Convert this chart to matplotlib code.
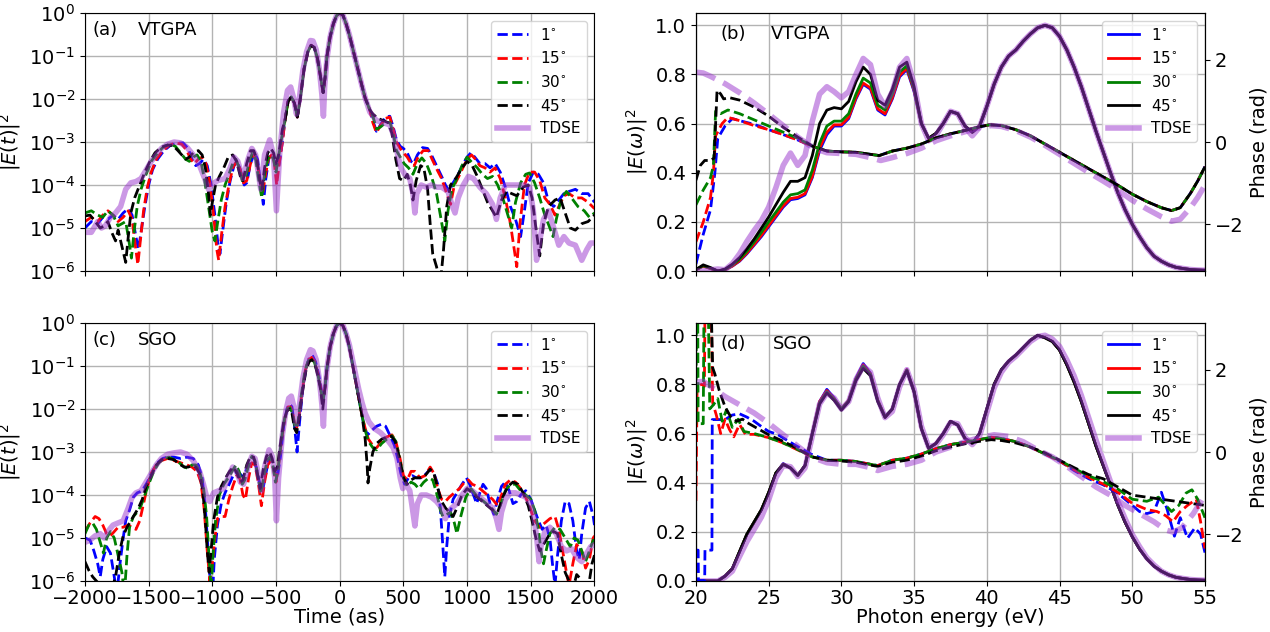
import numpy as np
import matplotlib
matplotlib.use("Agg")
import matplotlib.pyplot as plt
from matplotlib.ticker import NullLocator, MultipleLocator

# ---------------- time domain, (t [as], log10 |E(t)|^2) ----------------
vt_core = [(-430, -2.5), (-405, -2.05), (-380, -1.95), (-355, -2.1), (-333, -2.42), (-310, -2.0),
           (-280, -1.3), (-250, -0.9), (-225, -0.75), (-200, -0.8), (-175, -1.05), (-150, -1.5),
           (-130, -1.85), (-115, -1.5), (-100, -1.0), (-75, -0.55), (-50, -0.25), (-25, -0.06),
           (0, 0.0), (25, -0.05), (50, -0.25), (75, -0.5), (100, -0.8), (125, -1.1), (150, -1.4),
           (175, -1.7), (200, -1.98), (236, -2.25)]

vt_1_left = [(-2000, -5.0), (-1950, -4.85), (-1900, -4.9), (-1860, -4.75), (-1820, -4.8), (-1780, -4.7),
             (-1740, -4.8), (-1700, -4.65), (-1660, -4.55), (-1630, -4.7), (-1600, -5.2), (-1580, -5.5),
             (-1560, -5.1), (-1530, -4.5), (-1500, -4.0), (-1470, -3.65), (-1430, -3.4), (-1380, -3.2),
             (-1330, -3.08), (-1280, -3.03), (-1230, -3.02), (-1190, -3.15), (-1160, -3.4), (-1130, -3.55),
             (-1100, -3.5), (-1070, -3.4), (-1040, -3.55), (-1010, -4.0), (-980, -4.7), (-955, -5.4),
             (-940, -5.6), (-920, -5.1), (-890, -4.4), (-860, -3.9), (-830, -3.55), (-805, -3.45),
             (-780, -3.65), (-750, -4.0), (-730, -3.95), (-700, -3.5), (-670, -3.25), (-645, -3.4),
             (-620, -4.0), (-600, -4.45), (-580, -3.85), (-555, -3.35), (-530, -3.3), (-505, -3.5),
             (-480, -3.6), (-455, -3.1)]
vt_1_right = [(260, -2.5), (288, -2.75), (320, -2.6), (360, -2.42), (393, -2.4), (420, -2.65), (445, -2.95),
              (475, -3.1), (500, -3.15), (530, -3.25), (560, -3.45), (580, -3.5), (610, -3.3), (650, -3.13),
              (690, -3.15), (720, -3.3), (760, -3.55), (800, -3.8), (830, -4.0), (860, -4.15), (890, -3.95),
              (930, -3.75), (970, -3.5), (1000, -3.35), (1030, -3.25), (1060, -3.35), (1100, -3.5),
              (1140, -3.5), (1180, -3.6), (1220, -3.5), (1260, -3.7), (1300, -4.05), (1340, -4.5),
              (1380, -4.8), (1420, -5.2), (1450, -4.6), (1480, -3.95), (1520, -3.7), (1560, -3.75),
              (1600, -3.95), (1640, -4.4), (1680, -4.5), (1720, -4.35), (1760, -4.2), (1800, -4.15),
              (1850, -4.1), (1900, -4.2), (1950, -4.2), (2000, -4.4)]

vt_15_left = [(-2000, -4.85), (-1950, -4.75), (-1900, -4.85), (-1860, -4.7), (-1820, -4.6), (-1780, -4.7),
              (-1740, -4.85), (-1700, -4.75), (-1660, -4.6), (-1630, -4.8), (-1605, -5.4), (-1585, -5.85),
              (-1565, -5.3), (-1540, -4.6), (-1510, -4.05), (-1480, -3.7), (-1440, -3.4), (-1390, -3.2),
              (-1340, -3.08), (-1290, -3.02), (-1240, -3.05), (-1200, -3.2), (-1170, -3.4), (-1140, -3.5),
              (-1110, -3.4), (-1080, -3.35), (-1050, -3.5), (-1020, -3.95), (-990, -4.7), (-965, -5.5),
              (-950, -5.75), (-930, -5.2), (-900, -4.5), (-870, -4.0), (-840, -3.6), (-810, -3.45),
              (-785, -3.6), (-755, -3.95), (-730, -3.9), (-700, -3.5), (-675, -3.3), (-650, -3.45),
              (-625, -3.9), (-605, -4.2), (-585, -3.8), (-560, -3.4), (-535, -3.3), (-515, -3.45),
              (-495, -4.0), (-475, -3.5), (-450, -3.0)]
vt_15_right = [(260, -2.55), (288, -2.78), (320, -2.62), (360, -2.45), (393, -2.42), (420, -2.7),
               (445, -3.0), (475, -3.15), (500, -3.25), (530, -3.35), (560, -3.5), (585, -3.55),
               (615, -3.35), (655, -3.2), (695, -3.2), (725, -3.4), (765, -3.65), (800, -3.85),
               (840, -4.2), (870, -4.45), (900, -4.0), (935, -3.8), (975, -3.55), (1005, -3.38),
               (1035, -3.3), (1065, -3.4), (1100, -3.55), (1140, -3.6), (1180, -3.7), (1220, -3.6),
               (1260, -3.85), (1300, -4.3), (1340, -4.9), (1370, -5.5), (1390, -5.9), (1415, -4.9),
               (1450, -4.0), (1490, -3.7), (1530, -3.7), (1570, -3.9), (1610, -4.3), (1650, -4.45),
               (1690, -4.7), (1720, -4.5), (1760, -4.25), (1800, -4.2), (1850, -4.3), (1900, -4.3),
               (1950, -4.4), (2000, -4.55)]

vt_30_left = [(-2000, -4.65), (-1950, -4.6), (-1900, -4.7), (-1860, -4.75), (-1820, -4.6), (-1780, -4.7),
              (-1740, -4.95), (-1710, -4.9), (-1680, -4.85), (-1655, -5.3), (-1635, -5.7), (-1615, -5.1),
              (-1590, -4.5), (-1560, -4.1), (-1520, -3.75), (-1480, -3.45), (-1430, -3.25), (-1380, -3.1),
              (-1330, -3.05), (-1290, -3.1), (-1250, -3.25), (-1210, -3.4), (-1180, -3.45), (-1150, -3.35),
              (-1120, -3.3), (-1090, -3.45), (-1060, -3.9), (-1030, -4.5), (-1000, -5.1), (-980, -5.3),
              (-960, -4.9), (-930, -4.35), (-900, -4.0), (-870, -3.75), (-840, -3.5), (-815, -3.4),
              (-790, -3.6), (-765, -3.9), (-740, -3.85), (-710, -3.45), (-685, -3.25), (-660, -3.4),
              (-635, -3.9), (-612, -4.3), (-590, -3.75), (-565, -3.4), (-540, -3.3), (-520, -3.4),
              (-500, -3.7), (-478, -3.3), (-450, -2.8)]
vt_30_right = [(260, -2.4), (290, -2.7), (320, -2.65), (360, -2.55), (395, -2.55), (420, -2.8),
               (445, -3.2), (475, -3.35), (505, -3.5), (540, -3.6), (575, -3.75), (610, -3.5),
               (645, -3.37), (680, -3.5), (720, -3.8), (760, -4.2), (790, -4.7), (825, -5.3),
               (850, -4.6), (880, -4.1), (920, -3.85), (960, -3.55), (1000, -3.35), (1030, -3.45),
               (1080, -3.6), (1120, -3.75), (1160, -3.85), (1200, -3.8), (1240, -4.0), (1280, -4.3),
               (1320, -4.7), (1350, -5.0), (1380, -4.4), (1420, -3.95), (1460, -3.75), (1490, -3.72),
               (1530, -3.95), (1570, -4.3), (1610, -4.7), (1650, -5.0), (1675, -5.2), (1700, -4.8),
               (1740, -4.3), (1780, -4.15), (1820, -4.3), (1870, -4.5), (1920, -4.6), (1960, -4.75),
               (2000, -4.65)]

vt_45_left = [(-2000, -4.72), (-1960, -4.7), (-1920, -4.85), (-1880, -5.0), (-1850, -4.95), (-1820, -4.85),
              (-1790, -5.1), (-1760, -5.3), (-1740, -5.05), (-1720, -5.3), (-1700, -5.55), (-1680, -5.8),
              (-1660, -5.2), (-1640, -4.65), (-1610, -4.3), (-1570, -4.0), (-1530, -3.7), (-1490, -3.45),
              (-1450, -3.25), (-1400, -3.12), (-1350, -3.07), (-1310, -3.08), (-1270, -3.2), (-1240, -3.3),
              (-1210, -3.4), (-1180, -3.35), (-1150, -3.25), (-1110, -3.2), (-1080, -3.3), (-1055, -3.6),
              (-1030, -4.2), (-1015, -4.7), (-1000, -4.4), (-975, -4.0), (-945, -3.8), (-910, -3.6),
              (-875, -3.35), (-840, -3.3), (-810, -3.45), (-780, -3.8), (-760, -3.9), (-730, -3.5),
              (-700, -3.2), (-675, -3.2), (-650, -3.4), (-625, -3.95), (-610, -4.1), (-590, -3.6),
              (-565, -3.25), (-540, -3.15), (-520, -3.25), (-500, -3.5), (-480, -3.3), (-450, -2.7)]
vt_45_right = [(260, -2.35), (300, -2.45), (340, -2.5), (380, -2.55), (410, -2.8), (440, -3.4),
               (470, -3.85), (500, -3.9), (530, -3.75), (555, -4.0), (575, -4.35), (600, -3.9),
               (635, -3.55), (660, -3.6), (690, -4.1), (710, -4.9), (730, -5.6), (760, -5.9),
               (790, -6.3), (815, -5.5), (840, -4.5), (870, -4.0), (910, -3.85), (960, -3.6),
               (1000, -3.45), (1040, -3.55), (1080, -3.8), (1120, -4.1), (1160, -4.4), (1200, -4.6),
               (1230, -4.75), (1270, -4.35), (1310, -4.15), (1350, -4.2), (1390, -4.25), (1440, -4.05),
               (1480, -4.0), (1510, -4.3), (1540, -5.0), (1570, -5.65), (1600, -4.9), (1640, -4.5),
               (1690, -4.35), (1730, -4.3), (1770, -4.65), (1810, -5.0), (1850, -5.05), (1900, -4.9),
               (1950, -4.85), (2000, -4.7)]

vt_tdse = [(-2000, -5.1), (-1950, -5.1), (-1900, -4.85), (-1870, -5.0), (-1840, -4.95), (-1800, -4.75),
           (-1760, -4.65), (-1720, -4.5), (-1680, -4.1), (-1640, -3.95), (-1600, -3.92), (-1560, -3.85),
           (-1520, -3.65), (-1480, -3.45), (-1440, -3.3), (-1400, -3.15), (-1350, -3.05), (-1300, -3.0),
           (-1250, -3.02), (-1200, -3.12), (-1150, -3.3), (-1100, -3.55), (-1060, -3.85), (-1030, -4.1),
           (-1000, -3.98), (-960, -3.9), (-900, -3.85), (-860, -3.6), (-830, -3.35), (-800, -3.45),
           (-760, -3.85), (-720, -3.4), (-690, -3.15), (-660, -3.3), (-620, -4.1), (-590, -3.3),
           (-550, -2.95), (-520, -3.3), (-497, -4.6), (-470, -3.2), (-440, -2.3), (-410, -1.8),
           (-385, -1.72), (-360, -2.0), (-340, -2.35), (-320, -2.05), (-290, -1.35), (-260, -0.9),
           (-230, -0.64), (-210, -0.65), (-185, -0.85), (-160, -1.3), (-140, -1.9), (-128, -2.4),
           (-118, -1.7), (-100, -1.05), (-75, -0.55), (-50, -0.25), (-25, -0.06), (0, 0.0), (25, -0.05),
           (50, -0.25), (75, -0.5), (100, -0.8), (125, -1.1), (150, -1.4), (175, -1.7), (200, -1.98),
           (236, -2.3), (288, -2.5), (340, -2.55), (393, -2.6), (430, -2.9), (455, -3.3), (480, -3.6),
           (510, -3.75), (550, -3.85), (575, -4.2), (590, -4.65), (605, -4.2), (640, -4.0), (680, -4.05),
           (720, -4.0), (760, -4.05), (800, -4.05), (850, -4.15), (885, -4.5), (905, -4.65), (930, -4.3),
           (970, -4.0), (1010, -3.8), (1050, -3.85), (1100, -4.05), (1150, -4.2), (1200, -4.45),
           (1230, -4.8), (1260, -4.3), (1300, -4.0), (1350, -4.0), (1400, -4.0), (1450, -4.0),
           (1490, -4.05), (1520, -4.6), (1545, -5.75), (1570, -5.3), (1600, -4.8), (1640, -4.6),
           (1680, -5.0), (1720, -5.4), (1760, -5.2), (1800, -5.35), (1850, -5.4), (1900, -5.75),
           (1940, -5.5), (1970, -5.35), (2000, -5.35)]

sg_1 = [(-2000, -5.0), (-1960, -5.05), (-1930, -5.3), (-1900, -5.6), (-1880, -5.9), (-1860, -5.5),
        (-1830, -5.2), (-1800, -5.35), (-1770, -5.9), (-1750, -6.3), (-1725, -5.6), (-1700, -5.0),
        (-1680, -4.6), (-1650, -4.35), (-1620, -4.05), (-1590, -3.95), (-1550, -3.9), (-1510, -3.7),
        (-1470, -3.45), (-1430, -3.25), (-1390, -3.15), (-1350, -3.12), (-1300, -3.12), (-1250, -3.15),
        (-1200, -3.12), (-1150, -3.15), (-1110, -3.3), (-1080, -3.6), (-1055, -4.3), (-1035, -5.2),
        (-1015, -6.1), (-1000, -6.4), (-985, -5.5), (-960, -4.7), (-930, -4.2), (-900, -3.95),
        (-860, -3.7), (-830, -3.5), (-800, -3.45), (-770, -3.55), (-740, -3.45), (-710, -3.3),
        (-680, -3.2), (-655, -3.35), (-630, -3.7), (-605, -3.9), (-580, -3.5), (-555, -3.15),
        (-530, -3.2), (-510, -3.45), (-490, -3.6), (-465, -3.1), (-440, -2.4), (-415, -2.0),
        (-395, -1.88), (-375, -1.95), (-355, -2.4), (-335, -3.0), (-315, -2.3), (-290, -1.5),
        (-260, -1.0), (-235, -0.78), (-215, -0.75), (-190, -0.9), (-165, -1.2), (-145, -1.55),
        (-130, -1.8), (-115, -1.5), (-100, -1.05), (-75, -0.55), (-50, -0.25), (-25, -0.06), (0, 0.0),
        (25, -0.06), (50, -0.25), (75, -0.55), (100, -0.95), (125, -1.35), (150, -1.75), (175, -2.15),
        (195, -2.45), (220, -2.6), (250, -2.5), (290, -2.4), (330, -2.35), (360, -2.4), (400, -2.65),
        (430, -2.85), (455, -3.15), (480, -3.5), (510, -3.75), (540, -3.6), (570, -3.55), (600, -3.6),
        (640, -3.6), (680, -3.5), (710, -3.4), (740, -3.5), (770, -3.75), (790, -4.3), (810, -5.2),
        (825, -5.9), (840, -5.2), (860, -4.5), (890, -4.1), (930, -3.9), (960, -3.75), (995, -3.6),
        (1020, -3.75), (1050, -4.0), (1075, -4.2), (1100, -3.95), (1125, -3.75), (1150, -3.85),
        (1180, -4.2), (1210, -4.45), (1240, -4.1), (1270, -3.8), (1300, -3.7), (1330, -3.9),
        (1360, -4.2), (1390, -4.15), (1420, -4.0), (1460, -3.9), (1500, -4.1), (1530, -4.35),
        (1560, -4.6), (1590, -4.8), (1620, -4.7), (1650, -5.0), (1670, -5.6), (1690, -6.1),
        (1710, -5.4), (1740, -4.6), (1770, -4.15), (1800, -4.2), (1830, -4.6), (1860, -5.3),
        (1880, -5.5), (1900, -4.9), (1930, -4.3), (1960, -4.15), (1990, -4.5), (2000, -4.7)]

sg_15 = [(-2000, -4.85), (-1960, -4.65), (-1920, -4.5), (-1890, -4.55), (-1860, -4.7), (-1830, -4.9),
         (-1800, -4.95), (-1770, -4.85), (-1740, -4.75), (-1700, -4.75), (-1660, -4.7), (-1630, -4.75),
         (-1600, -4.8), (-1570, -4.6), (-1540, -4.2), (-1510, -3.8), (-1480, -3.5), (-1440, -3.3),
         (-1400, -3.2), (-1350, -3.15), (-1300, -3.2), (-1250, -3.25), (-1200, -3.3), (-1160, -3.35),
         (-1120, -3.45), (-1090, -3.7), (-1065, -4.3), (-1040, -5.3), (-1020, -6.0), (-1000, -5.6),
         (-980, -5.0), (-960, -4.55), (-930, -4.5), (-900, -4.5), (-870, -4.1), (-840, -3.8),
         (-810, -3.55), (-785, -3.6), (-760, -4.0), (-740, -4.1), (-715, -3.6), (-690, -3.25),
         (-665, -3.3), (-640, -3.7), (-615, -4.25), (-590, -3.7), (-565, -3.3), (-540, -3.2),
         (-520, -3.4), (-500, -3.7), (-480, -3.3), (-455, -2.7), (-430, -2.2), (-405, -1.95),
         (-385, -1.95), (-365, -2.15), (-345, -2.5), (-325, -2.3), (-300, -1.7), (-270, -1.1),
         (-245, -0.85), (-220, -0.8), (-195, -0.9), (-170, -1.2), (-150, -1.5), (-132, -1.85),
         (-115, -1.5), (-100, -1.05), (-75, -0.55), (-50, -0.25), (-25, -0.06), (0, 0.0), (25, -0.06),
         (50, -0.25), (75, -0.55), (100, -0.95), (125, -1.35), (150, -1.75), (175, -2.15), (200, -2.45),
         (225, -2.7), (260, -2.85), (290, -2.9), (330, -2.75), (370, -2.65), (410, -2.6), (440, -2.75),
         (470, -3.1), (500, -3.55), (530, -3.65), (560, -3.45), (590, -3.45), (630, -3.6), (670, -3.55),
         (710, -3.35), (740, -3.5), (770, -3.85), (800, -4.1), (830, -4.15), (860, -4.05), (900, -3.95),
         (940, -3.85), (980, -3.7), (1010, -3.65), (1040, -3.75), (1080, -3.8), (1120, -3.9),
         (1160, -4.0), (1200, -4.1), (1240, -4.25), (1270, -4.0), (1300, -3.75), (1340, -3.65),
         (1380, -3.7), (1420, -3.85), (1460, -4.05), (1500, -4.35), (1530, -4.6), (1570, -4.75),
         (1610, -4.65), (1650, -4.55), (1690, -4.5), (1720, -4.8), (1750, -5.3), (1780, -5.8),
         (1800, -6.1), (1830, -5.6), (1860, -5.15), (1900, -5.3), (1930, -5.7), (1960, -5.5),
         (1990, -5.0), (2000, -4.95)]

sg_30 = [(-2000, -4.9), (-1970, -4.7), (-1940, -4.65), (-1910, -4.8), (-1880, -5.1), (-1855, -5.35),
         (-1830, -5.0), (-1800, -4.85), (-1770, -5.0), (-1740, -5.4), (-1710, -5.8), (-1690, -6.3),
         (-1670, -5.4), (-1650, -4.75), (-1620, -4.5), (-1590, -4.4), (-1560, -4.25), (-1530, -4.0),
         (-1500, -3.75), (-1460, -3.45), (-1420, -3.25), (-1380, -3.15), (-1340, -3.12), (-1300, -3.18),
         (-1260, -3.25), (-1220, -3.35), (-1190, -3.38), (-1160, -3.3), (-1130, -3.3), (-1100, -3.45),
         (-1070, -3.8), (-1045, -4.5), (-1025, -5.5), (-1010, -6.2), (-995, -5.4), (-975, -4.6),
         (-945, -4.0), (-910, -3.75), (-875, -3.6), (-845, -3.45), (-815, -3.3), (-790, -3.45),
         (-765, -3.75), (-745, -3.65), (-715, -3.3), (-690, -3.1), (-665, -3.2), (-640, -3.6),
         (-618, -3.95), (-595, -3.55), (-570, -3.2), (-545, -3.1), (-525, -3.3), (-505, -3.7),
         (-485, -3.45), (-460, -2.75), (-435, -2.25), (-410, -2.0), (-390, -1.97), (-370, -2.1),
         (-350, -2.45), (-330, -2.35), (-305, -1.75), (-275, -1.15), (-250, -0.9), (-225, -0.83),
         (-200, -0.9), (-175, -1.15), (-152, -1.5), (-133, -1.85), (-117, -1.5), (-100, -1.05),
         (-75, -0.55), (-50, -0.25), (-25, -0.06), (0, 0.0), (25, -0.06), (50, -0.25), (75, -0.55),
         (100, -0.95), (125, -1.35), (150, -1.75), (175, -2.15), (200, -2.5), (225, -2.75), (260, -2.9),
         (290, -2.95), (330, -2.8), (370, -2.7), (410, -2.62), (440, -2.75), (470, -3.15), (500, -3.6),
         (530, -3.8), (560, -3.7), (590, -3.75), (620, -3.85), (660, -3.7), (700, -3.6), (730, -3.65),
         (760, -3.95), (790, -4.35), (810, -4.5), (840, -4.45), (870, -4.4), (900, -4.65), (920, -4.9),
         (950, -4.5), (990, -4.05), (1030, -3.85), (1070, -4.0), (1110, -4.1), (1150, -4.2),
         (1190, -4.3), (1230, -4.45), (1260, -4.25), (1300, -3.9), (1340, -3.75), (1380, -3.75),
         (1420, -3.9), (1460, -4.0), (1500, -4.1), (1530, -4.35), (1560, -4.8), (1580, -5.3),
         (1600, -5.6), (1620, -5.3), (1650, -4.9), (1690, -4.75), (1730, -4.8), (1770, -5.0),
         (1810, -5.2), (1840, -5.0), (1870, -5.05), (1900, -5.3), (1930, -5.55), (1960, -5.3),
         (1990, -5.05), (2000, -5.1)]

sg_45 = [(-2000, -5.55), (-1970, -5.75), (-1940, -5.9), (-1910, -6.0), (-1880, -6.1), (-1850, -6.1),
         (-1820, -6.05), (-1790, -6.2), (-1760, -5.9), (-1730, -5.35), (-1700, -4.95), (-1670, -4.75),
         (-1640, -4.6), (-1610, -4.45), (-1580, -4.3), (-1550, -4.1), (-1520, -3.8), (-1480, -3.55),
         (-1440, -3.3), (-1400, -3.18), (-1350, -3.15), (-1300, -3.18), (-1260, -3.28), (-1220, -3.35),
         (-1190, -3.35), (-1160, -3.32), (-1130, -3.35), (-1100, -3.5), (-1075, -3.9), (-1055, -4.6),
         (-1040, -5.3), (-1025, -5.8), (-1010, -5.3), (-990, -4.6), (-960, -4.05), (-930, -3.8),
         (-895, -3.6), (-865, -3.45), (-835, -3.35), (-805, -3.5), (-780, -3.7), (-760, -3.65),
         (-730, -3.3), (-700, -3.1), (-675, -3.12), (-650, -3.45), (-625, -3.85), (-600, -3.4),
         (-575, -3.1), (-550, -3.0), (-530, -3.15), (-510, -3.45), (-490, -3.35), (-465, -2.8),
         (-440, -2.3), (-415, -2.05), (-395, -2.0), (-375, -2.1), (-355, -2.45), (-338, -2.55),
         (-318, -2.2), (-295, -1.65), (-265, -1.1), (-240, -0.9), (-218, -0.85), (-195, -0.95),
         (-170, -1.25), (-150, -1.55), (-133, -2.0), (-117, -1.55), (-100, -1.05), (-75, -0.55),
         (-50, -0.25), (-25, -0.06), (0, 0.0), (25, -0.06), (50, -0.25), (75, -0.55), (100, -0.95),
         (125, -1.35), (150, -1.75), (175, -2.15), (200, -2.7), (215, -3.3), (222, -3.72), (235, -3.4),
         (260, -3.0), (290, -2.8), (330, -2.7), (370, -2.65), (405, -2.63), (435, -2.75), (465, -3.1),
         (500, -3.6), (530, -3.75), (560, -3.65), (590, -3.6), (630, -3.6), (670, -3.55), (710, -3.4),
         (740, -3.5), (770, -3.85), (800, -4.15), (830, -4.3), (860, -4.4), (890, -4.5), (920, -4.3),
         (960, -4.0), (1000, -3.85), (1040, -3.95), (1080, -4.05), (1120, -4.15), (1160, -4.25),
         (1200, -4.35), (1240, -4.4), (1280, -4.05), (1320, -3.8), (1360, -3.7), (1400, -3.75),
         (1440, -3.95), (1480, -4.25), (1510, -4.6), (1540, -5.0), (1570, -5.3), (1600, -5.15),
         (1640, -4.95), (1680, -4.85), (1710, -4.9), (1740, -5.4), (1770, -5.8), (1800, -6.0),
         (1830, -6.2), (1860, -5.85), (1890, -5.95), (1920, -6.3), (1950, -6.2), (1980, -5.6),
         (2000, -5.4)]

sg_tdse = [(-2000, -5.1), (-1960, -5.05), (-1920, -4.95), (-1880, -4.9), (-1850, -5.0), (-1820, -4.85),
           (-1780, -4.7), (-1740, -4.65), (-1700, -4.6), (-1660, -4.3), (-1630, -4.05), (-1600, -3.95),
           (-1560, -3.9), (-1520, -3.7), (-1480, -3.5), (-1440, -3.3), (-1400, -3.15), (-1350, -3.05),
           (-1300, -3.02), (-1250, -3.0), (-1200, -3.05), (-1150, -3.2), (-1100, -3.45), (-1070, -3.75),
           (-1040, -4.1), (-1020, -4.15), (-990, -3.95), (-950, -3.9), (-910, -3.85), (-870, -3.55),
           (-840, -3.35), (-810, -3.45), (-780, -3.7), (-755, -3.75), (-720, -3.35), (-690, -3.1),
           (-665, -3.15), (-640, -3.5), (-615, -3.9), (-590, -3.35), (-555, -2.95), (-530, -3.1),
           (-510, -3.6), (-497, -4.6), (-480, -3.6), (-450, -2.6), (-420, -2.0), (-400, -1.75),
           (-380, -1.7), (-360, -1.95), (-340, -2.36), (-320, -2.0), (-290, -1.3), (-260, -0.85),
           (-230, -0.62), (-210, -0.65), (-185, -0.85), (-160, -1.3), (-140, -1.9), (-128, -2.4),
           (-118, -1.7), (-100, -1.05), (-75, -0.55), (-50, -0.25), (-25, -0.06), (0, 0.0), (25, -0.05),
           (50, -0.25), (75, -0.5), (100, -0.85), (125, -1.2), (150, -1.55), (175, -1.85), (200, -2.1),
           (230, -2.3), (270, -2.45), (320, -2.55), (370, -2.7), (420, -2.9), (450, -3.15), (475, -3.6),
           (495, -3.85), (520, -3.75), (550, -3.9), (570, -4.3), (590, -4.72), (610, -4.2), (640, -4.0),
           (680, -4.0), (720, -4.05), (760, -4.15), (800, -4.3), (830, -4.55), (850, -4.4), (880, -4.3),
           (920, -4.2), (960, -4.0), (1000, -3.85), (1040, -3.9), (1080, -4.0), (1120, -4.1),
           (1160, -4.2), (1200, -4.3), (1230, -4.55), (1250, -4.8), (1270, -4.4), (1300, -4.1),
           (1340, -3.95), (1380, -3.95), (1420, -4.0), (1460, -4.05), (1500, -4.2), (1530, -4.6),
           (1550, -5.1), (1565, -5.55), (1580, -5.2), (1610, -4.85), (1650, -4.75), (1700, -4.9),
           (1740, -5.2), (1780, -5.3), (1820, -5.25), (1860, -5.45), (1900, -5.55), (1940, -5.35),
           (1970, -5.2), (2000, -5.15)]

# ---------------- spectra, |E(w)|^2 on a 0.5 eV grid ----------------
energy = np.arange(20.0, 55.01, 0.5)

vt_amp_tail = [0.60, 0.54, 0.56, 0.60, 0.65, 0.64, 0.59, 0.565, 0.59, 0.67, 0.76, 0.83, 0.875, 0.90,
               0.935, 0.965, 0.99, 1.0, 0.99, 0.955, 0.90, 0.83, 0.75, 0.66, 0.57, 0.485, 0.40, 0.32,
               0.25, 0.19, 0.14, 0.095, 0.06, 0.04, 0.025, 0.015, 0.01, 0.006, 0.004, 0.003]
vt_amp_1 = [0.005, 0.02, 0.01, 0.0, 0.005, 0.02, 0.04, 0.07, 0.105, 0.14, 0.18, 0.22, 0.26, 0.29, 0.295,
            0.31, 0.38, 0.49, 0.555, 0.59, 0.59, 0.62, 0.70, 0.76, 0.74, 0.655, 0.635, 0.70, 0.79, 0.82,
            0.73] + vt_amp_tail
vt_amp_15 = [0.005, 0.02, 0.01, 0.0, 0.005, 0.02, 0.042, 0.073, 0.108, 0.145, 0.185, 0.225, 0.265, 0.295,
             0.30, 0.315, 0.385, 0.50, 0.565, 0.595, 0.595, 0.625, 0.705, 0.765, 0.745, 0.66, 0.64, 0.705,
             0.795, 0.825, 0.735] + vt_amp_tail
vt_amp_30 = [0.005, 0.022, 0.012, 0.0, 0.006, 0.024, 0.048, 0.08, 0.118, 0.158, 0.20, 0.24, 0.28, 0.31,
             0.315, 0.33, 0.41, 0.52, 0.59, 0.61, 0.61, 0.64, 0.72, 0.785, 0.765, 0.675, 0.655, 0.72, 0.81,
             0.835, 0.74] + vt_amp_tail
vt_amp_45 = [0.006, 0.025, 0.014, 0.0, 0.008, 0.028, 0.055, 0.09, 0.13, 0.175, 0.22, 0.27, 0.32, 0.365,
             0.365, 0.38, 0.47, 0.60, 0.655, 0.665, 0.66, 0.69, 0.77, 0.83, 0.80, 0.695, 0.675, 0.74, 0.83,
             0.85, 0.75] + vt_amp_tail
vt_amp_tdse = [0.0, 0.0, 0.005, 0.008, 0.005, 0.03, 0.07, 0.12, 0.165, 0.205, 0.26, 0.34, 0.43, 0.48, 0.43,
               0.47, 0.61, 0.72, 0.75, 0.73, 0.705, 0.73, 0.80, 0.865, 0.84, 0.72, 0.67, 0.73, 0.83, 0.865,
               0.76, 0.60, 0.53, 0.55, 0.60, 0.65, 0.64, 0.585, 0.55, 0.585, 0.67, 0.76, 0.83, 0.875, 0.90,
               0.935, 0.965, 0.99, 1.0, 0.99, 0.955, 0.90, 0.83, 0.75, 0.66, 0.57, 0.485, 0.40, 0.32, 0.25,
               0.19, 0.14, 0.095, 0.06, 0.04, 0.025, 0.015, 0.01, 0.006, 0.004, 0.003]

sg_amp_tail = [0.62, 0.54, 0.56, 0.60, 0.65, 0.635, 0.58, 0.56, 0.60, 0.70, 0.80, 0.86, 0.895, 0.92,
               0.95, 0.98, 1.0, 0.99, 0.975, 0.94, 0.88, 0.81, 0.73, 0.64, 0.55, 0.47, 0.39, 0.31, 0.24,
               0.18, 0.13, 0.09, 0.06, 0.04, 0.025, 0.015, 0.01, 0.006, 0.004, 0.003]
sg_amp_1 = [0.0, 0.0, 0.0, 0.0, 0.02, 0.05, 0.12, 0.19, 0.24, 0.29, 0.36, 0.44, 0.478, 0.46, 0.43, 0.47,
            0.60, 0.73, 0.78, 0.745, 0.70, 0.735, 0.825, 0.885, 0.845, 0.735, 0.67, 0.70, 0.80, 0.86,
            0.77] + sg_amp_tail
sg_amp_15 = [0.0, 0.0, 0.0, 0.0, 0.02, 0.05, 0.12, 0.19, 0.24, 0.29, 0.36, 0.44, 0.476, 0.46, 0.43, 0.47,
             0.60, 0.73, 0.775, 0.742, 0.70, 0.735, 0.822, 0.88, 0.843, 0.735, 0.668, 0.70, 0.80, 0.86,
             0.77] + sg_amp_tail
sg_amp_30 = [0.0, 0.0, 0.0, 0.0, 0.02, 0.05, 0.12, 0.19, 0.24, 0.29, 0.36, 0.44, 0.475, 0.46, 0.43, 0.47,
             0.60, 0.725, 0.77, 0.74, 0.70, 0.733, 0.82, 0.875, 0.84, 0.733, 0.667, 0.70, 0.80, 0.858,
             0.77] + sg_amp_tail
sg_amp_45 = [0.0, 0.0, 0.0, 0.0, 0.02, 0.05, 0.12, 0.19, 0.24, 0.29, 0.36, 0.44, 0.474, 0.46, 0.43, 0.47,
             0.60, 0.72, 0.765, 0.735, 0.695, 0.73, 0.815, 0.865, 0.835, 0.73, 0.665, 0.70, 0.80, 0.855,
             0.77] + sg_amp_tail
sg_amp_tdse = [0.0, 0.0, 0.0, 0.0, 0.015, 0.04, 0.10, 0.16, 0.21, 0.26, 0.33, 0.42, 0.47, 0.465, 0.425,
               0.46, 0.59, 0.72, 0.765, 0.745, 0.70, 0.73, 0.82, 0.875, 0.85, 0.745, 0.665, 0.69, 0.79,
               0.86, 0.78, 0.63, 0.545, 0.555, 0.595, 0.645, 0.64, 0.585, 0.555, 0.59, 0.685, 0.785, 0.85,
               0.89, 0.915, 0.945, 0.975, 0.995, 1.0, 0.985, 0.955, 0.90, 0.835, 0.755, 0.665, 0.575, 0.49,
               0.405, 0.325, 0.255, 0.19, 0.14, 0.095, 0.065, 0.04, 0.025, 0.015, 0.01, 0.006, 0.004, 0.003]

# ---------------- spectral phase, (E [eV], phase [rad]) ----------------
vt_ph_tail = [(28, -0.1), (29, -0.22), (30, -0.24), (31, -0.25), (32, -0.3), (32.6, -0.33), (33.5, -0.22),
              (34.5, -0.15), (35.5, -0.05), (36.5, 0.1), (37.5, 0.2), (38.5, 0.28), (39.5, 0.37),
              (40.2, 0.42), (41, 0.4), (42, 0.3), (43, 0.15), (44, -0.05), (45, -0.25), (46, -0.45),
              (47, -0.65), (48, -0.85), (49, -1.05), (50, -1.27), (51, -1.45), (52, -1.6), (52.7, -1.67),
              (53.3, -1.6), (54, -1.25), (54.5, -0.95), (55, -0.6)]
vt_ph_1 = [(20, -2.97), (20.5, -2.25), (21, -1.65), (21.3, -0.75), (21.5, 0.09), (21.7, 0.21), (22, 0.39),
           (22.5, 0.57), (23, 0.52), (24, 0.43), (25, 0.3), (26, 0.18), (27, 0.05)] + vt_ph_tail
vt_ph_15 = [(20, -2.43), (20.5, -1.95), (21, -1.35), (21.2, -0.75), (21.35, 0.15), (21.8, 0.45),
            (22.2, 0.6), (23, 0.52), (24, 0.4), (25, 0.3), (26, 0.18), (27, 0.05)] + vt_ph_tail
vt_ph_30 = [(20, -1.53), (20.5, -1.17), (21, -0.87), (21.2, -0.57), (21.35, 0.75), (21.7, 0.69),
            (22.2, 0.78), (23, 0.69), (24, 0.54), (25, 0.39), (26, 0.24), (27, 0.09)] + vt_ph_tail
vt_ph_45 = [(20, -0.93), (20.3, -0.57), (20.6, -0.45), (21, -0.45), (21.25, -0.39), (21.45, 1.26),
            (21.7, 1.17), (21.9, 1.05), (22.3, 1.08), (23, 1.02), (24, 0.85), (25, 0.63), (26, 0.36),
            (27, 0.12)] + vt_ph_tail
vt_ph_tdse = [(20, 1.7), (20.5, 1.68), (21, 1.6), (22, 1.42), (23, 1.2), (24, 0.95), (25, 0.68), (26, 0.4),
              (27, 0.12), (27.8, -0.08), (28.5, -0.2), (29, -0.26), (30, -0.28), (31, -0.3), (32, -0.38),
              (32.7, -0.45), (33.5, -0.38), (34.5, -0.28), (35.5, -0.15), (36.5, 0.03), (37.5, 0.15),
              (38.5, 0.25), (39.5, 0.35), (40.3, 0.4), (41, 0.38), (42, 0.28), (43, 0.12), (44, -0.08),
              (45, -0.3), (46, -0.52), (47, -0.74), (48, -0.95), (49, -1.17), (50, -1.42), (51, -1.63),
              (52, -1.82), (52.7, -1.93), (53.3, -1.88), (54, -1.6), (54.5, -1.35), (55, -1.05)]

sg_ph_mid = [(29, -0.2), (30, -0.2), (31, -0.23), (32, -0.3), (32.5, -0.33), (33.5, -0.2), (34.5, -0.15),
             (35.5, -0.05), (36.5, 0.08), (37.5, 0.18), (38.5, 0.24), (39.5, 0.3), (40.3, 0.36),
             (41, 0.33), (42, 0.25), (43, 0.12), (44, -0.05)]
sg_ph_1 = ([(20, -2.39), (20.15, -2.39), (20.17, -3.13), (20.6, -3.13), (20.62, -2.39), (21.1, -2.39),
            (21.12, 0.79), (22, 0.79), (22.5, 0.9), (23, 0.93), (23.5, 0.85), (24, 0.75), (24.5, 0.62),
            (25, 0.5), (25.6, 0.43), (26.8, 0.17), (27.9, -0.05)] + sg_ph_mid +
           [(45, -0.22), (46, -0.45), (47, -0.65), (48, -0.8), (49, -1.0), (50, -1.3), (50.5, -1.45),
            (51, -1.5), (51.5, -1.45), (52, -0.98), (52.4, -1.4), (52.9, -2.05), (53.3, -1.6),
            (53.8, -2.1), (54.3, -1.85), (54.7, -2.0), (55, -2.45)])
sg_ph_15 = ([(20, -1.19), (20.08, 1.6), (20.4, 1.65), (20.58, 1.6), (20.62, 3.5), (21.05, 3.5),
             (21.15, 1.2), (21.4, 0.9), (21.7, 0.45), (22.0, 0.8), (22.3, 0.55), (22.6, 0.37),
             (23.0, 0.67), (23.4, 0.43), (24, 0.43), (25, 0.35), (26, 0.22), (27, 0.05), (28, -0.12)]
            + sg_ph_mid +
            [(45, -0.22), (46, -0.43), (47, -0.62), (48, -0.78), (49, -0.98), (50, -1.25), (51, -1.4),
             (51.7, -1.45), (52.3, -1.55), (52.8, -1.7), (53.3, -1.45), (53.8, -1.3), (54.4, -1.15),
             (54.7, -1.7), (55, -2.35)])
sg_ph_30 = ([(20, 0.67), (20.03, 3.5), (20.12, 3.5), (20.15, 0.69), (20.5, 0.69), (20.55, 3.5),
             (20.85, 3.5), (20.95, 1.05), (21.2, 1.15), (21.5, 1.3), (21.8, 0.75), (22.1, 1.03),
             (22.5, 0.6), (22.9, 0.8), (23.3, 0.5), (24, 0.45), (25, 0.35), (26, 0.22), (27, 0.06),
             (28, -0.12)] + sg_ph_mid +
            [(45, -0.2), (46, -0.4), (47, -0.58), (48, -0.72), (49, -0.9), (50, -1.15), (51, -1.2),
             (51.8, -1.1), (52.3, -1.3), (52.7, -1.45), (53.2, -1.3), (53.7, -1.0), (54.1, -0.92),
             (54.5, -1.15), (55, -1.6)])
sg_ph_45 = [(20, 3.5), (21.05, 3.5), (21.15, 2.05), (21.3, 1.9), (21.6, 1.5), (22.0, 1.1), (22.4, 0.85),
            (22.8, 0.75), (23.2, 0.8), (23.6, 0.7), (24.0, 0.62), (24.5, 0.52), (25, 0.42), (26, 0.26),
            (27, 0.08), (28, -0.12), (29, -0.2), (30, -0.22), (31, -0.25), (32, -0.32), (32.5, -0.35),
            (33.5, -0.25), (34.5, -0.2), (35.5, -0.1), (36.5, 0.03), (37.5, 0.12), (38.5, 0.2),
            (39.5, 0.26), (40.3, 0.3), (41, 0.28), (42, 0.22), (43, 0.12), (44, -0.02), (45, -0.2),
            (46, -0.38), (47, -0.55), (48, -0.65), (49, -0.85), (50, -1.05), (51, -1.1), (52, -1.15),
            (53, -1.2), (54, -1.25), (55, -1.3)]
sg_ph_tdse = [(20, 1.7), (20.5, 1.72), (21, 1.6), (22, 1.35), (23, 1.15), (24, 0.95), (25, 0.7), (26, 0.42),
              (27, 0.14), (28, -0.13), (29, -0.26), (30, -0.3), (31, -0.3), (32, -0.38), (32.5, -0.45),
              (33.5, -0.35), (34.5, -0.3), (35.5, -0.2), (36.5, 0.0), (37.5, 0.12), (38.5, 0.25),
              (39.5, 0.35), (40.5, 0.42), (41.5, 0.38), (42.5, 0.25), (43.5, 0.05), (44.5, -0.12),
              (45.5, -0.35), (46.5, -0.6), (47.5, -0.85), (48.5, -1.05), (49.5, -1.3), (50.5, -1.5),
              (51.5, -1.7), (52.3, -1.9), (52.8, -1.95), (53.4, -1.85), (54.2, -1.5), (55, -1.05)]

angle_labels = [r"1$^{\circ}$", r"15$^{\circ}$", r"30$^{\circ}$", r"45$^{\circ}$"]
angle_colors = ["blue", "red", "green", "black"]
tdse_color = "darkorchid"
FS = 14


def tag(ax, letter, name, x0, x1, y):
    ax.text(x0, y, letter, transform=ax.transAxes, fontsize=13, va="center")
    ax.text(x1, y, name, transform=ax.transAxes, fontsize=13, va="center")


def time_panel(ax, series, tdse, bottom):
    for s, c, lab in zip(series, angle_colors, angle_labels):
        t, e = np.array(s).T
        ax.semilogy(t, 10.0 ** e, "--", color=c, lw=2, label=lab)
    t, e = np.array(tdse).T
    ax.semilogy(t, 10.0 ** e, color=tdse_color, alpha=0.5, lw=4, label="TDSE")
    ax.set_xlim(-2000, 2000)
    ax.set_ylim(1e-6, 1)
    ax.xaxis.set_major_locator(MultipleLocator(500))
    ax.yaxis.set_minor_locator(NullLocator())
    ax.grid(True, color="0.7", lw=1)
    ax.tick_params(labelsize=FS)
    ax.tick_params(axis="x", pad=2)
    ax.set_ylabel(r"$|E(t)|^2$", fontsize=FS)
    if bottom:
        ax.set_xlabel("Time (as)", fontsize=FS, labelpad=0)
    else:
        ax.tick_params(labelbottom=False)
    ax.legend(loc="upper right", fontsize=11)


def spec_panel(ax, amps, amp_tdse, phases, ph_tdse, bottom):
    for a, c, lab in zip(amps, angle_colors, angle_labels):
        ax.plot(energy, a, color=c, lw=2, label=lab)
    ax.plot(energy, amp_tdse, color=tdse_color, alpha=0.5, lw=4, label="TDSE")
    ax.set_xlim(20, 55)
    ax.set_ylim(0, 1.05)
    ax.xaxis.set_major_locator(MultipleLocator(5))
    ax.set_yticks([0.0, 0.2, 0.4, 0.6, 0.8, 1.0])
    ax.grid(True, color="0.7", lw=1)
    ax.tick_params(labelsize=FS)
    ax.tick_params(axis="x", pad=2)
    ax.set_ylabel(r"$|E(\omega)|^2$", fontsize=FS)
    if bottom:
        ax.set_xlabel("Photon energy (eV)", fontsize=FS, labelpad=0)
    else:
        ax.tick_params(labelbottom=False)

    ax2 = ax.twinx()
    for p, c in zip(phases, angle_colors):
        e, ph = np.array(p).T
        ax2.plot(e, ph, "--", color=c, lw=2)
    e, ph = np.array(ph_tdse).T
    ax2.plot(e, ph, "--", color=tdse_color, alpha=0.5, lw=4)
    ax2.set_ylim(-np.pi, np.pi)
    ax2.set_yticks([-2, 0, 2])
    ax2.tick_params(labelsize=FS)
    ax2.set_ylabel("Phase (rad)", fontsize=FS)
    h, l = ax.get_legend_handles_labels()
    ax2.legend(h, l, loc="upper right", fontsize=11)
    return ax2


fig = plt.figure(figsize=(12.7, 6.32), dpi=100)
ax_a = fig.add_axes([0.0669, 0.5712, 0.4012, 0.4082])
ax_c = fig.add_axes([0.0669, 0.0807, 0.4012, 0.4082])
ax_b = fig.add_axes([0.548, 0.5712, 0.4008, 0.4082])
ax_d = fig.add_axes([0.548, 0.0807, 0.4008, 0.4082])

time_panel(ax_a, [vt_1_left + vt_core + vt_1_right, vt_15_left + vt_core + vt_15_right,
                  vt_30_left + vt_core + vt_30_right, vt_45_left + vt_core + vt_45_right],
           vt_tdse, bottom=False)
time_panel(ax_c, [sg_1, sg_15, sg_30, sg_45], sg_tdse, bottom=True)
bx2 = spec_panel(ax_b, [vt_amp_1, vt_amp_15, vt_amp_30, vt_amp_45], vt_amp_tdse,
                 [vt_ph_1, vt_ph_15, vt_ph_30, vt_ph_45], vt_ph_tdse, bottom=False)
dx2 = spec_panel(ax_d, [sg_amp_1, sg_amp_15, sg_amp_30, sg_amp_45], sg_amp_tdse,
                 [sg_ph_1, sg_ph_15, sg_ph_30, sg_ph_45], sg_ph_tdse, bottom=True)

tag(ax_a, "(a)", "VTGPA", 0.014, 0.104, 0.936)
tag(ax_c, "(c)", "SGO", 0.014, 0.104, 0.936)
tag(ax_b, "(b)", "VTGPA", 0.049, 0.147, 0.92)
tag(ax_d, "(d)", "SGO", 0.049, 0.151, 0.92)

fig.savefig("out.png", dpi=100)
